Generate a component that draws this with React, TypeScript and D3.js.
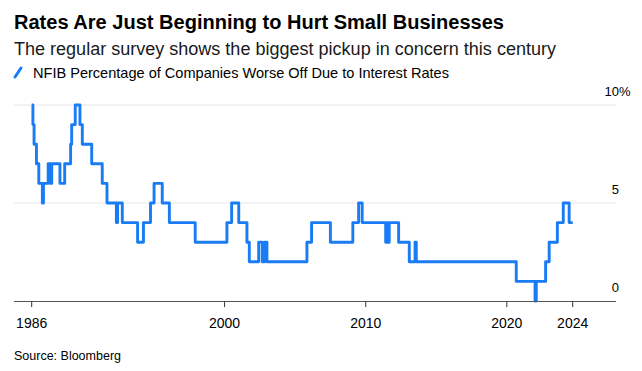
import React from 'react';
import * as d3 from 'd3';

// month in which each new level starts (monthly survey, integer percent)
const MONTHS = [
  '1986-05', '1986-06', '1986-07', '1986-09', '1986-11', '1987-02', '1987-03', '1987-07', '1987-09', '1987-10',
  '1988-05', '1988-09', '1989-02', '1989-03', '1989-06', '1989-10', '1989-12', '1990-08', '1991-05', '1991-09',
  '1992-05', '1992-06', '1992-10', '1993-11', '1994-04', '1994-10', '1995-01', '1995-08', '1996-02', '1997-12',
  '2000-03', '2000-07', '2001-01', '2001-08', '2001-10', '2002-06', '2002-09', '2002-11', '2003-01', '2005-11',
  '2006-03', '2007-07', '2009-02', '2009-07', '2009-10', '2011-06', '2011-07', '2011-08', '2011-09', '2012-05',
  '2013-02', '2013-07', '2013-08', '2020-09', '2022-01', '2022-02', '2022-10', '2023-01', '2023-08', '2024-01',
  '2024-06', '2024-09',
];
const VALUES = [
  10, 9, 8, 7, 6, 5, 6, 7, 6, 7,
  6, 7, 8, 9, 10, 9, 8, 7, 6, 5,
  4, 5, 4, 3, 4, 5, 6, 5, 4, 3,
  4, 5, 4, 3, 2, 3, 2, 3, 2, 3,
  4, 3, 4, 5, 4, 3, 4, 3, 4, 3,
  2, 3, 2, 1, 0, 1, 2, 3, 4, 5,
  4, 4,
];

const TICK_MONTHS = ['1986-05', '2000-01', '2010-01', '2020-01', '2024-09'];
const TICK_LABELS = ['1986', '2000', '2010', '2020', '2024'];
const Y_TICKS = [0, 5, 10];

const W = 642;
const H = 371;
const BLUE = '#1a7cf4';
const FONT = '"Liberation Sans", Arial, Helvetica, sans-serif';

const parseMonth = d3.timeParse('%Y-%m');

export default function App() {
  const points = MONTHS.map((m, i) => ({ date: parseMonth(m) as Date, value: VALUES[i] }));

  const x = d3
    .scaleTime()
    .domain([points[0].date, points[points.length - 1].date])
    .range([31.7, 572.7]);
  const y = d3.scaleLinear().domain([0, 10]).range([301, 105]);

  const line = d3
    .line<{ date: Date; value: number }>()
    .x((d) => x(d.date))
    .y((d) => y(d.value))
    .curve(d3.curveStepAfter);

  const left = 14;
  const right = 616;

  return (
    <svg
      width={W}
      height={H}
      style={{ position: 'absolute', left: 0, top: 0, background: '#fff' }}
      fontFamily={FONT}
    >
      <rect width={W} height={H} fill="#fff" />
      <text x={14} y={29} fontSize={20} fontWeight={700} fill="#000" textLength={490} lengthAdjust="spacingAndGlyphs">
        Rates Are Just Beginning to Hurt Small Businesses
      </text>
      <text x={14} y={54.5} fontSize={17.5} fill="#1a1a1a" textLength={542} lengthAdjust="spacingAndGlyphs">
        The regular survey shows the biggest pickup in concern this century
      </text>
      <line x1={15} y1={77} x2={21} y2={68} stroke={BLUE} strokeWidth={3} strokeLinecap="round" />
      <text x={33} y={78} fontSize={14.5} fill="#000" textLength={416} lengthAdjust="spacingAndGlyphs">
        NFIB Percentage of Companies Worse Off Due to Interest Rates
      </text>

      {Y_TICKS.filter((t) => t > 0).map((t) => (
        <line key={t} x1={left} x2={right} y1={y(t)} y2={y(t)} stroke="#e6e6e6" strokeWidth={1} />
      ))}
      {Y_TICKS.map((t) => (
        <text key={t} x={619} y={y(t) - 9} fontSize={13} textAnchor="end" fill="#000">
          {t}
        </text>
      ))}
      <text x={619} y={y(10) - 9} fontSize={13} fill="#000">
        %
      </text>

      <path d={line(points) || ''} fill="none" stroke={BLUE} strokeWidth={2.9} strokeLinejoin="round" />

      <line x1={left} x2={right} y1={301.5} y2={301.5} stroke="#555" strokeWidth={1.2} />
      {TICK_MONTHS.map((m, i) => {
        const tx = x(parseMonth(m) as Date);
        return (
          <g key={m}>
            <line x1={tx} x2={tx} y1={301.5} y2={307} stroke="#333" strokeWidth={1} />
            <text x={tx} y={328} fontSize={14} textAnchor="middle" fill="#000">
              {TICK_LABELS[i]}
            </text>
          </g>
        );
      })}

      <text x={14} y={360} fontSize={12.5} fill="#000">
        Source: Bloomberg
      </text>
    </svg>
  );
}
